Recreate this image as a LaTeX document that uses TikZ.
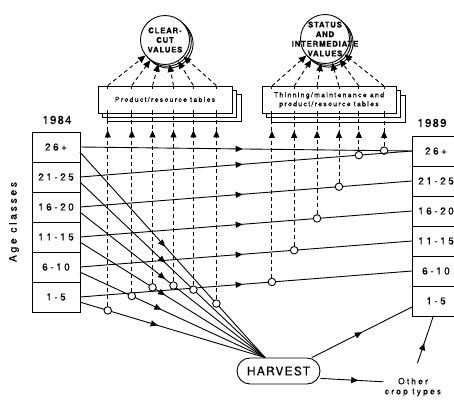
\documentclass[tikz,border=0pt]{standalone}
\usepackage{fontspec}
\setmainfont{TeX Gyre Heros}[LetterSpace=10,FakeBold=0.2]
\newfontfamily\widefont{TeX Gyre Heros}[LetterSpace=25,FakeBold=0.2]
\newfontfamily\midfont{TeX Gyre Heros}[LetterSpace=18,FakeBold=0.2]
\usepackage{tikz}
\usetikzlibrary{arrows.meta,positioning,shadows,decorations.markings}

\begin{document}
\begin{tikzpicture}[
      x=1pt, y=-1pt, line width=0.9pt,
      cell/.style={rectangle, draw, minimum width=48pt, minimum height=30pt,
                   inner sep=0pt, outer sep=0pt, font=\widefont\fontsize{10}{11}\selectfont},
      valcirc/.style={circle, draw, fill=white, minimum size=49pt, inner sep=0pt,
                      double copy shadow={shadow xshift=1.8pt, shadow yshift=-1.8pt}},
      valtext/.style={align=center, inner sep=0pt, font=\bfseries\fontsize{7.8}{9.6}\selectfont},
      tabbox/.style={rectangle, draw, fill=white, minimum width=134pt, minimum height=27pt,
                     align=center, font=\midfont\fontsize{7}{9}\selectfont,
                     double copy shadow={shadow xshift=4.5pt, shadow yshift=-4.3pt}},
      jn/.style={circle, draw, fill=white, minimum size=7.5pt, inner sep=0pt},
      flow/.style={postaction={decorate}, decoration={markings,
                   mark=at position #1 with {\arrow{Triangle[length=7pt,width=6pt]}}}},
      upflow/.style={dash pattern=on 4pt off 3pt, postaction={decorate},
                   decoration={markings,
                   mark=at position -17pt with {\arrow{Triangle[length=7pt,width=6pt]}}}},
      fan/.style={dash pattern=on 4pt off 3pt, -{Triangle[length=7.5pt,width=6.5pt]}}
    ]
    \useasboundingbox (0,0) rectangle (454,399);

    % 1984 age classes
    \node[font=\fontsize{11.5}{12}\selectfont] (y84) at (57,120) {1984};
    \node[cell] (l26) at (56,147) {26+};
    \node[cell, below=0pt of l26] (l21) {21-25};
    \node[cell, below=0pt of l21] (l16) {16-20};
    \node[cell, below=0pt of l16] (l11) {11-15};
    \node[cell, below=0pt of l11] (l6) {6-10};
    \node[cell, below=0pt of l6] (l1) {1-5};
    \node[rotate=90, font=\widefont\fontsize{10.5}{12}\selectfont] (ages) at (14,222) {Age classes};

    % 1989 age classes
    \node[font=\fontsize{11.5}{12}\selectfont] (y89) at (432,123) {1989};
    \node[cell] (r26) at (436,151) {26+};
    \node[cell, below=0pt of r26] (r21) {21-25};
    \node[cell, below=0pt of r21] (r16) {16-20};
    \node[cell, below=0pt of r16] (r11) {11-15};
    \node[cell, below=0pt of r11] (r6) {6-10};
    \node[cell, below=0pt of r6] (r1) {1-5};

    % tables and values
    \node[tabbox] (prod) at (165,99.5) {Product/resource tables};
    \node[tabbox] (thin) at (329,100) {Thinning/maintenance and\\product/resource tables};
    \node[valcirc] (cc) at (165,40) {};
    \node[valtext] (cctext) at (cc) {CLEAR-\\CUT\\VALUES};
    \node[valcirc] (sv) at (325,39) {};
    \node[valtext] (svtext) at (sv) {STATUS\\AND\\INTERMEDIATE\\VALUES};

    \node[draw, rounded corners=13pt, minimum width=83pt, minimum height=26pt, inner sep=0pt,
          font=\fontsize{12}{13}\selectfont] (harvest) at (278.5,371) {HARVEST};
    \node[align=center, inner sep=1pt, font=\widefont\fontsize{8.5}{10}\selectfont] (other) at (413,387) {Other\\crop types};

    % growth to next class
    \draw[flow=0.49] (l26.east) -- node[jn, pos=0.916] (g26) {} (r26.west);
    \draw[flow=0.49] (l21.east) -- node[jn, pos=0.84] (g21) {} (r26.west);
    \draw[flow=0.49] (l16.east) -- node[jn, pos=0.78] (g16) {} (r21.west);
    \draw[flow=0.49] (l11.east) -- node[jn, pos=0.714] (g11) {} (r16.west);
    \draw[flow=0.49] (l6.east) -- node[jn, pos=0.645] (g6) {} (r11.west);
    \draw[flow=0.49] (l1.east) -- node[jn, pos=0.578] (g1) {} (r6.west);

    % clear-cut to harvest
    \draw[flow=0.46] (l26.-12) -- node[jn, pos=0.737] (c26) {} (harvest.135);
    \draw[flow=0.46] (l21.-12) -- node[jn, pos=0.613] (c21) {} (harvest.135);
    \draw[flow=0.46] (l16.-12) -- node[jn, pos=0.505] (c16) {} (harvest.135);
    \draw[flow=0.46] (l11.-12) -- node[jn, pos=0.392] (c11) {} (harvest.135);
    \draw[flow=0.44] (l6.-12) -- node[jn, pos=0.28] (c6) {} (harvest.135);
    \draw[flow=0.42] (l1.-12) -- node[jn, pos=0.15] (c1) {} (harvest.135);

    \draw[flow=0.5] (harvest.22) -- (r1.194);
    \draw[flow=0.6] (harvest.-10) -- (other.170);
    \draw[flow=0.55, shorten <=14pt] (other.north) -- (r1.-100);

    % clear-cut values
    \draw[upflow] (c1) -- (c1 |- prod.south);
    \draw[upflow] (c6) -- (c6 |- prod.south);
    \draw[upflow] (c11) -- (c11 |- prod.south);
    \draw[upflow] (c16) -- (c16 |- prod.south);
    \draw[upflow] (c21) -- (c21 |- prod.south);
    \draw[upflow] (c26) -- (c26 |- prod.south);
    \draw (c1 |- prod.south) -- ++(0,-3);
    \draw (c6 |- prod.south) -- ++(0,-3);
    \draw (c11 |- prod.south) -- ++(0,-3);
    \draw (c16 |- prod.south) -- ++(0,-3);
    \draw (c21 |- prod.south) -- ++(0,-3);
    \draw (c26 |- prod.south) -- ++(0,-3);
    \draw (c1 |- prod.north) -- ++(0,3);
    \draw (c6 |- prod.north) -- ++(0,3);
    \draw (c11 |- prod.north) -- ++(0,3);
    \draw (c16 |- prod.north) -- ++(0,3);
    \draw (c21 |- prod.north) -- ++(0,3);
    \draw (c26 |- prod.north) -- ++(0,3);
    \draw[fan] (c1 |- prod.north) -- (cc);
    \draw[fan] (c6 |- prod.north) -- (cc);
    \draw[fan] (c11 |- prod.north) -- (cc);
    \draw[fan] (c16 |- prod.north) -- (cc);
    \draw[fan] (c21 |- prod.north) -- (cc);
    \draw[fan] (c26 |- prod.north) -- (cc);

    % status and intermediate values
    \draw[upflow] (g1) -- (g1 |- thin.south);
    \draw[upflow] (g6) -- (g6 |- thin.south);
    \draw[upflow] (g11) -- (g11 |- thin.south);
    \draw[upflow] (g16) -- (g16 |- thin.south);
    \draw[upflow] (g21) -- (g21 |- thin.south);
    \draw[upflow] (g26) -- (g26 |- thin.south);
    \draw (g1 |- thin.south) -- ++(0,-3);
    \draw (g6 |- thin.south) -- ++(0,-3);
    \draw (g11 |- thin.south) -- ++(0,-3);
    \draw (g16 |- thin.south) -- ++(0,-3);
    \draw (g21 |- thin.south) -- ++(0,-3);
    \draw (g26 |- thin.south) -- ++(0,-3);
    \draw (g1 |- thin.north) -- ++(0,3);
    \draw (g6 |- thin.north) -- ++(0,3);
    \draw (g11 |- thin.north) -- ++(0,3);
    \draw (g16 |- thin.north) -- ++(0,3);
    \draw (g21 |- thin.north) -- ++(0,3);
    \draw (g26 |- thin.north) -- ++(0,3);
    \draw[fan] (g1 |- thin.north) -- (sv);
    \draw[fan] (g6 |- thin.north) -- (sv);
    \draw[fan] (g11 |- thin.north) -- (sv);
    \draw[fan] (g16 |- thin.north) -- (sv);
    \draw[fan] (g21 |- thin.north) -- (sv);
    \draw[fan] (g26 |- thin.north) -- (sv);
  \end{tikzpicture}
\end{document}
